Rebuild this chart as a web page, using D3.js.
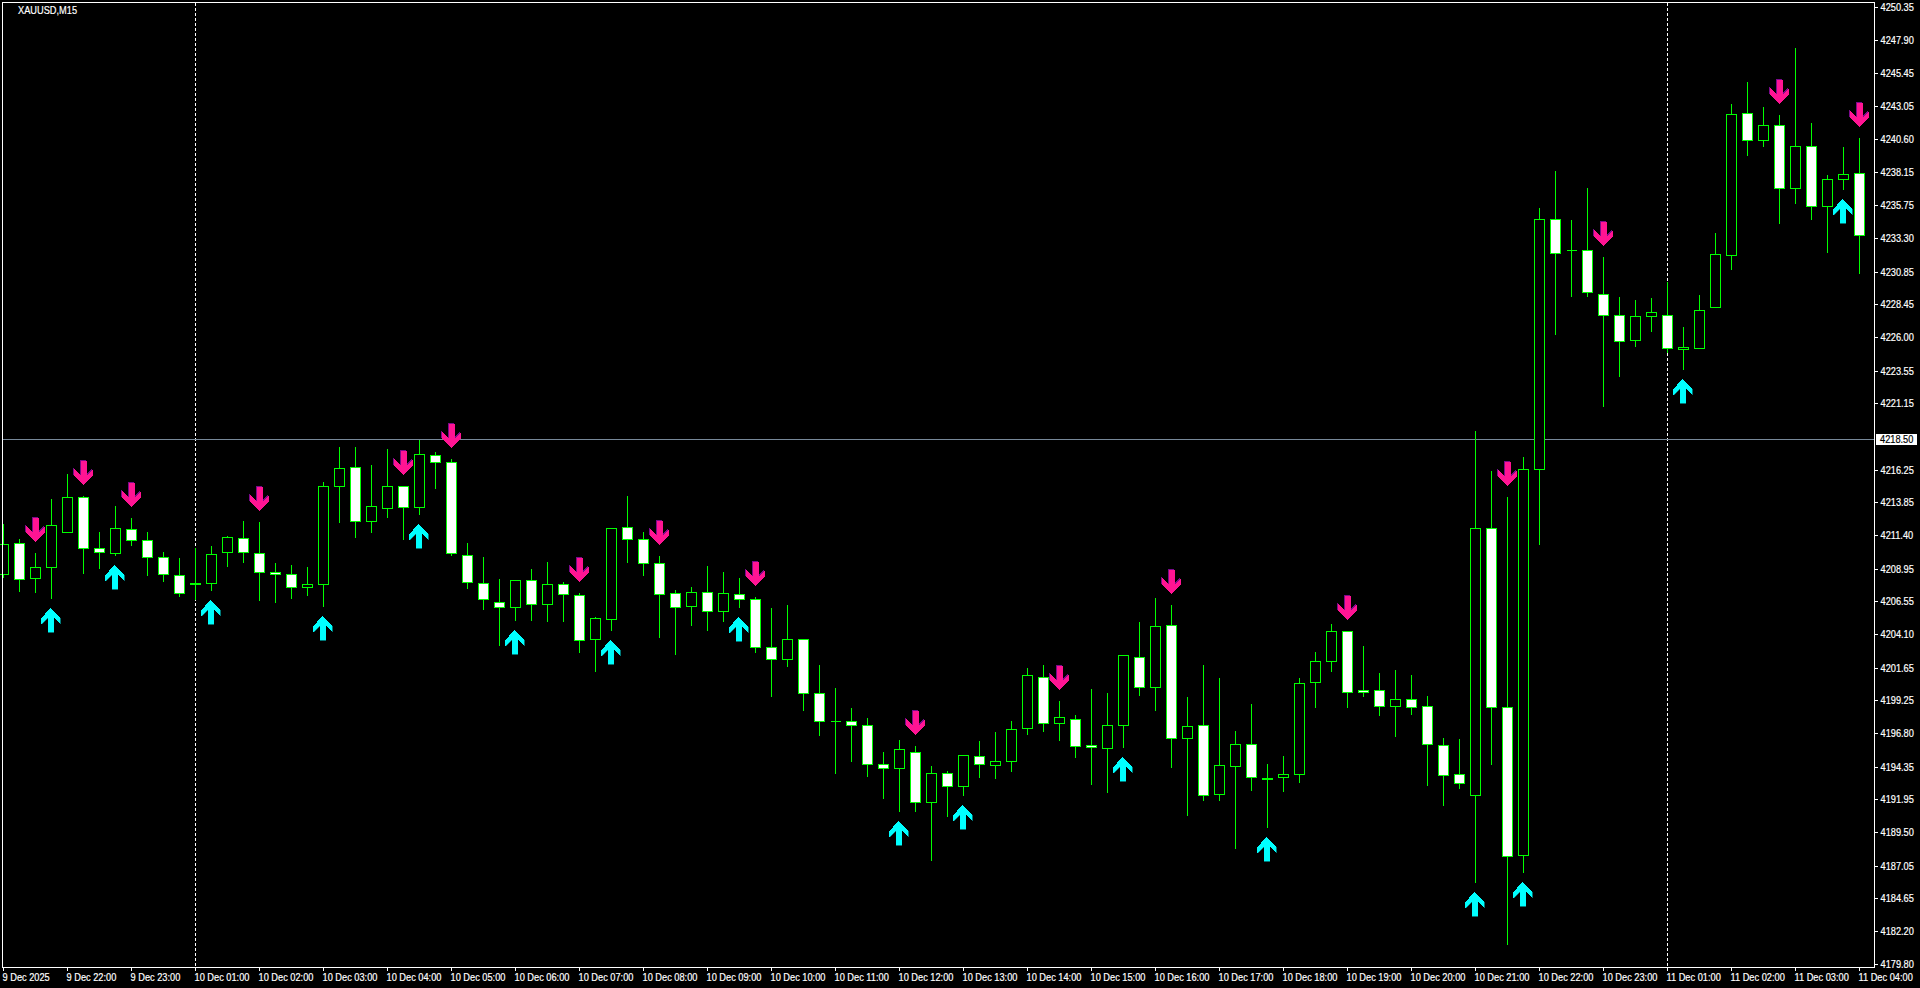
<!DOCTYPE html>
<html>
<head>
<meta charset="utf-8">
<title>XAUUSD,M15</title>
<script src="https://cdn.jsdelivr.net/npm/d3@7"></script>
<style>
html,body{margin:0;padding:0;background:#000;overflow:hidden}
svg{display:block}
text{font-family:"Liberation Sans",Arial,sans-serif;font-size:11px;fill:#fff;stroke:#fff;stroke-width:0.2px}
</style>
</head>
<body>
<svg id="chart" width="1920" height="988"></svg>
<script>
const symbolLabel = "XAUUSD,M15";
const lastPrice = 4218.50;

const opens = [4208.55,4210.84,4208.26,4209.07,4211.65,4214.23,4210.47,4210.10,4211.87,4211.06,4209.80,4208.48,4207.81,4207.89,4210.17,4211.20,4210.10,4208.70,4208.55,4207.59,4207.81,4215.04,4216.44,4212.46,4213.42,4215.04,4213.49,4217.32,4216.81,4209.95,4207.89,4206.49,4206.12,4208.11,4206.34,4207.81,4207.00,4203.76,4205.23,4212.02,4211.13,4209.36,4207.15,4206.19,4207.22,4205.82,4207.08,4206.71,4203.17,4202.29,4203.76,4199.78,4197.71,4197.71,4197.42,4194.54,4194.25,4195.43,4191.74,4193.88,4192.92,4195.13,4194.47,4194.77,4197.20,4200.96,4197.57,4197.86,4195.94,4195.72,4197.42,4202.43,4200.22,4204.79,4196.46,4197.42,4192.33,4194.40,4196.02,4193.44,4193.59,4193.81,4200.59,4202.14,4204.35,4200.00,4200.00,4198.82,4199.34,4198.82,4195.94,4193.81,4192.26,4211.94,4198.75,4187.84,4216.29,4234.72,4232.44,4232.44,4229.19,4227.64,4225.80,4227.57,4227.64,4225.14,4225.21,4228.23,4232.07,4242.54,4240.55,4241.65,4237.01,4240.10,4235.68,4237.67,4238.11];
const highs = [4212.24,4211.13,4210.10,4214.08,4215.92,4214.30,4211.65,4213.56,4212.68,4211.65,4210.17,4209.73,4210.47,4210.62,4211.35,4212.46,4212.38,4209.36,4209.21,4209.07,4215.33,4217.91,4217.91,4216.59,4217.77,4215.04,4218.43,4217.55,4217.03,4210.84,4209.80,4208.18,4208.11,4208.92,4209.43,4207.96,4207.15,4205.38,4211.94,4214.30,4211.65,4209.88,4207.37,4207.59,4209.14,4208.70,4208.26,4206.86,4206.04,4206.27,4203.76,4201.84,4200.15,4198.67,4197.94,4195.43,4196.31,4195.87,4194.40,4194.03,4195.21,4196.24,4196.90,4197.71,4201.62,4201.84,4199.19,4198.16,4200.07,4199.78,4202.58,4205.01,4206.78,4206.27,4199.48,4201.84,4200.88,4196.98,4198.97,4194.54,4195.13,4200.88,4202.80,4204.87,4204.35,4203.24,4201.25,4201.47,4201.11,4199.56,4196.46,4196.39,4219.09,4216.14,4214.23,4217.18,4235.53,4238.26,4234.65,4237.01,4231.92,4228.97,4228.75,4228.90,4230.08,4226.76,4229.12,4233.69,4243.20,4244.82,4242.98,4242.39,4247.33,4241.80,4237.97,4240.03,4240.69];
const lows = [4208.33,4207.30,4207.22,4206.78,4211.65,4208.62,4208.99,4209.95,4210.69,4208.48,4208.03,4206.93,4206.71,4207.37,4209.14,4209.43,4206.63,4206.49,4206.78,4207.00,4206.19,4212.38,4211.28,4211.65,4212.75,4211.13,4212.97,4214.89,4209.95,4207.52,4205.97,4203.32,4205.16,4205.16,4205.09,4205.09,4202.80,4201.40,4204.42,4209.43,4208.48,4203.91,4202.65,4204.79,4204.42,4205.09,4206.12,4202.80,4199.56,4201.77,4198.53,4196.68,4193.88,4194.77,4193.66,4192.04,4191.08,4191.08,4187.47,4190.71,4192.26,4193.59,4193.51,4194.03,4196.76,4196.98,4196.31,4195.06,4193.07,4192.48,4195.80,4199.63,4198.53,4194.32,4190.78,4191.89,4191.89,4188.35,4192.63,4189.90,4192.55,4193.22,4198.75,4201.40,4198.75,4199.56,4198.16,4196.61,4198.23,4193.00,4191.52,4192.78,4185.85,4194.54,4181.27,4186.58,4210.76,4226.24,4229.05,4229.05,4220.94,4223.15,4225.36,4226.46,4224.92,4223.66,4225.21,4228.23,4231.04,4239.44,4240.10,4234.43,4235.90,4234.72,4232.29,4236.93,4230.74];
const closes = [4210.76,4208.18,4209.07,4212.16,4214.23,4210.47,4210.17,4211.94,4211.06,4209.80,4208.55,4207.15,4207.89,4210.03,4211.28,4210.17,4208.70,4208.55,4207.59,4207.81,4215.04,4216.37,4212.46,4213.56,4215.04,4213.49,4217.40,4216.81,4210.10,4207.96,4206.71,4206.12,4208.11,4206.34,4207.81,4207.08,4203.69,4205.31,4211.94,4211.13,4209.36,4207.08,4206.12,4207.22,4205.82,4207.15,4206.71,4203.17,4202.29,4203.76,4199.78,4197.71,4197.71,4197.42,4194.54,4194.25,4195.65,4191.74,4193.88,4192.92,4195.21,4194.54,4194.77,4197.12,4201.11,4197.57,4198.01,4195.87,4195.80,4197.42,4202.58,4200.22,4204.72,4196.46,4197.35,4192.26,4194.47,4196.02,4193.59,4193.51,4193.81,4200.52,4202.14,4204.35,4199.85,4199.85,4198.82,4199.34,4198.75,4196.02,4193.73,4193.14,4211.94,4198.75,4187.76,4216.29,4234.72,4232.21,4232.44,4229.34,4227.64,4225.73,4227.57,4227.87,4225.21,4225.29,4228.01,4232.14,4242.46,4240.55,4241.65,4237.01,4240.10,4235.68,4237.67,4238.04,4233.54];

const sellSignals = [2,5,8,16,25,28,36,41,47,57,66,73,84,94,100,111,116];
const buySignals = [3,7,13,20,26,32,38,46,56,60,70,79,92,95,105,115];

const priceTicks = [4250.35,4247.90,4245.45,4243.05,4240.60,4238.15,4235.75,4233.30,4230.85,4228.45,4226.00,4223.55,4221.15,4216.25,4213.85,4211.40,4208.95,4206.55,4204.10,4201.65,4199.25,4196.80,4194.35,4191.95,4189.50,4187.05,4184.65,4182.20,4179.80];
const timeLabels = ["9 Dec 2025","9 Dec 22:00","9 Dec 23:00","10 Dec 01:00","10 Dec 02:00","10 Dec 03:00","10 Dec 04:00","10 Dec 05:00","10 Dec 06:00","10 Dec 07:00","10 Dec 08:00","10 Dec 09:00","10 Dec 10:00","10 Dec 11:00","10 Dec 12:00","10 Dec 13:00","10 Dec 14:00","10 Dec 15:00","10 Dec 16:00","10 Dec 17:00","10 Dec 18:00","10 Dec 19:00","10 Dec 20:00","10 Dec 21:00","10 Dec 22:00","10 Dec 23:00","11 Dec 01:00","11 Dec 02:00","11 Dec 03:00","11 Dec 04:00"];
const labelEvery = 4;
const daySeparators = [12,104];

const W = 1920, H = 988;
const frame = {left:2.5, top:2.5, right:1874.5, bottom:967.5};
const x = d3.scaleLinear().domain([0,116]).range([3.5,1859.5]);
const y = d3.scaleLinear().domain([4250.35,4179.80]).range([7.5,964.5]);
const rowY = v => Math.floor(y(v)) + 0.5;
const colX = i => Math.floor(x(i)) + 0.5;

const svg = d3.select("#chart");
svg.append("rect").attr("width",W).attr("height",H).attr("fill","#000");

const crisp = svg.append("g").attr("shape-rendering","crispEdges");

// day separators
crisp.append("g").selectAll("line").data(daySeparators).join("line")
  .attr("x1",colX).attr("x2",colX)
  .attr("y1",frame.top).attr("y2",frame.bottom)
  .attr("stroke","#fff").attr("stroke-width",1).attr("stroke-dasharray","3,2");

// bid line
crisp.append("line")
  .attr("x1",frame.left).attr("x2",frame.right)
  .attr("y1",rowY(lastPrice)).attr("y2",rowY(lastPrice))
  .attr("stroke","#778899").attr("stroke-width",1);

// candles
const candles = opens.map((o,i)=>({i,o,h:highs[i],l:lows[i],c:closes[i]}));
const GREEN = "#00ff00";
const gC = crisp.append("g").selectAll("g").data(candles).join("g");
gC.append("rect")
  .attr("x",d=>colX(d.i)-0.5).attr("width",1)
  .attr("y",d=>rowY(d.h)-0.5)
  .attr("height",d=>rowY(d.l)-rowY(d.h)+1)
  .attr("fill",GREEN);
gC.append("path")
  .attr("d",d=>{
    const t=rowY(Math.max(d.o,d.c)), b=rowY(Math.min(d.o,d.c)), c=colX(d.i);
    const p=d3.path();
    p.moveTo(c-5,t); p.lineTo(c+5,t); p.lineTo(c+5,b); p.lineTo(c-5,b); p.closePath();
    return p.toString();
  })
  .attr("fill",d=>d.c<d.o?"#fff":"#000")
  .attr("stroke",GREEN).attr("stroke-width",1);

// signal arrows
const upShape = [[0,0],[9.5,10],[9.5,16],[3,9.5],[3,24],[-3,24],[-3,9.5],[-9.5,16],[-9.5,10]];
const toPts = (pts,sy) => pts.map(p=>[p[0],p[1]*sy].join(",")).join(" ");
const gA = svg.append("g").attr("shape-rendering","crispEdges");
function arrows(list, sy, fill, shade, dx, dy, sdx, sdy, price){
  const g = gA.append("g").selectAll("g").data(list).join("g")
    .attr("transform",i=>`translate(${colX(i)+dx},${rowY(price[i])+dy})`);
  g.append("polygon").attr("points",toPts(upShape,sy)).attr("fill",shade)
    .attr("transform",`translate(${sdx},${sdy})`);
  g.append("polygon").attr("points",toPts(upShape,sy)).attr("fill",fill);
}
arrows(sellSignals,-1,"#ff1493","#7a0a8a",0,-11.5,-0.6,-0.6,highs);
arrows(buySignals,1,"#00ffff","#007878",-0.8,9.5,0.6,0.6,lows);

// frame
crisp.append("rect")
  .attr("x",frame.left).attr("y",frame.top)
  .attr("width",frame.right-frame.left).attr("height",frame.bottom-frame.top)
  .attr("fill","none").attr("stroke","#fff").attr("stroke-width",1);

// right price axis
const axisY = d3.axisRight(y).tickValues(priceTicks).tickFormat(d3.format(".2f")).tickSize(3).tickPadding(2);
const gy = svg.append("g").attr("transform",`translate(${frame.right+0.5},0)`).call(axisY);
gy.select(".domain").remove();
gy.selectAll(".tick").attr("transform",d=>`translate(0,${rowY(d)})`);
gy.selectAll(".tick line").attr("stroke","#fff").attr("shape-rendering","crispEdges");
gy.selectAll(".tick text").attr("fill","#fff").attr("x",5.5).attr("dy","0.36em");
gy.attr("font-family",null).attr("font-size",null);

// bottom time axis
const labelIdx = timeLabels.map((_,k)=>k*labelEvery);
const axisX = d3.axisBottom(x).tickValues(labelIdx).tickFormat(i=>timeLabels[i/labelEvery]).tickSize(3).tickPadding(2);
const gx = svg.append("g").attr("transform",`translate(0,${frame.bottom+0.5})`).call(axisX);
gx.select(".domain").remove();
gx.selectAll(".tick").attr("transform",d=>`translate(${colX(d)},0)`);
gx.selectAll(".tick line").attr("stroke","#fff").attr("shape-rendering","crispEdges");
gx.selectAll(".tick text").attr("fill","#fff").attr("text-anchor","start").attr("x",-1).attr("y",5).attr("dy","0.75em");
gx.attr("font-family",null).attr("font-size",null);

// last-price tag
const tag = svg.append("g").attr("transform",`translate(0,${rowY(lastPrice)})`);
tag.append("rect").attr("x",1876).attr("y",-5.5).attr("width",41).attr("height",11).attr("fill","#fff").attr("shape-rendering","crispEdges");
tag.append("text").attr("x",1880).attr("dy","0.36em").style("fill","#000").style("stroke","#000").text(d3.format(".2f")(lastPrice));

// symbol label
svg.append("text").attr("x",18).attr("y",14).text(symbolLabel);

// narrow the glyphs to the tight set width of the original terminal font
svg.selectAll("text").each(function(){
  const w = this.getComputedTextLength();
  d3.select(this).attr("textLength",(w*0.84).toFixed(2)).attr("lengthAdjust","spacingAndGlyphs");
});
</script>
</body>
</html>
